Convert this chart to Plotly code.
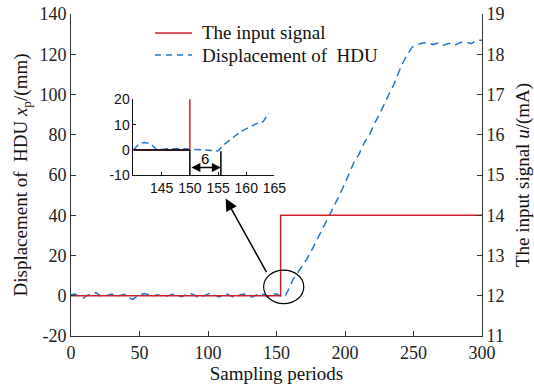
import plotly.graph_objects as go

# ---------------- data ----------------
pre_periods = list(range(0, 154, 3))
pre_disp = [0.5, 0.8, -0.5, -1.2, 0.3, 1.0, 1.6, 0.2, -0.6, 0.4, 0.9, -0.3, 0.2, 0.7, -0.8, -1.8,
            -0.4, 0.6, 1.1, 0.3, -0.2, 0.5, 0.2, -0.4, 0.3, 0.8, 0.1, -0.5, 0.6, 1.2, 0.4, -0.9,
            -0.3, 0.5, 1.4, 0.2, -0.6, 0.1, 0.8, -0.2, -1.0, 0.4, 0.9, 0.2, -0.7, 0.3, 1.3, 0.5,
            -0.4, 0.6, 1.0, -0.2]
rise_periods = [156, 158, 160, 162, 165, 169, 172, 176, 179, 183, 186, 190, 193, 196, 200, 203,
                207, 210, 214, 218, 221, 225, 229, 232, 235, 238, 241, 244, 246, 249, 252, 256,
                260, 264, 268, 272, 276, 280, 284, 288, 292, 296, 300]
rise_disp = [-0.5, 2, 5, 8, 11, 15, 18, 23, 27, 33, 37, 42, 46, 50, 56, 61,
             67, 70, 76, 80, 85, 90, 96, 100, 104, 109, 114, 118, 120.5, 123.5, 124.6, 125.5,
             125.8, 124.8, 125.6, 124.5, 125.4, 124.4, 125.8, 126.2, 125.3, 126.8, 127]
disp_periods = pre_periods + rise_periods
displacement = pre_disp + rise_disp

input_periods = [0, 153, 153, 300]
input_current = [12, 12, 14, 14]

inset_periods = [140, 141, 142, 143, 144, 145, 146, 147, 148, 149, 150, 151, 152, 153, 154, 155,
                 156, 157, 158, 159, 160, 161, 162, 163, 164]
inset_disp = [0, 2.5, 2.9, 2.5, 0.3, 0.2, 0.4, 0.5, 0.6, 0.4, 0.3, 0.1, 0, -0.2, -0.4, -0.4,
              2.0, 3.6, 5.5, 7.2, 8.3, 9.2, 10.6, 11.2, 14.5]
inset_input_periods = [140, 150, 150, 165]
inset_input_current = [12, 12, 14, 14]

x_ticks = [0, 50, 100, 150, 200, 250, 300]
y_ticks = [-20, 0, 20, 40, 60, 80, 100, 120, 140]
y_tick_labels = ["-20", "0", "20", "40", "60", "80", "100", "120", "140"]
u_ticks = [11, 12, 13, 14, 15, 16, 17, 18, 19]
inset_x_ticks = [145, 150, 155, 160, 165]
inset_y_ticks = [-10, 0, 10, 20]
inset_y_labels = ["-10", "0", "10", "20"]

legend_labels = ["The input signal", "Displacement of  HDU"]

RED = "#d0202a"
BLUE = "#1f78c8"
SERIF = "Liberation Serif"
SANS = "Liberation Sans"

fig = go.Figure()
fig.add_trace(go.Scatter(x=input_periods, y=input_current, mode="lines", name=legend_labels[0],
                         line=dict(color=RED, width=1.5), xaxis="x", yaxis="y2", showlegend=False))
fig.add_trace(go.Scatter(x=disp_periods, y=displacement, mode="lines", name=legend_labels[1],
                         line=dict(color=BLUE, width=1.5, dash="8px,5px"), xaxis="x", yaxis="y",
                         showlegend=False))
# inset
fig.add_trace(go.Scatter(x=inset_input_periods, y=[(u - 12) * 20 for u in inset_input_current],
                         mode="lines", line=dict(color=RED, width=1.5), showlegend=False,
                         xaxis="x3", yaxis="y3"))
fig.add_trace(go.Scatter(x=inset_periods, y=inset_disp, mode="lines",
                         line=dict(color=BLUE, width=1.5, dash="7px,4px"), showlegend=False,
                         xaxis="x3", yaxis="y3"))

tickfont = dict(family=SERIF, size=18, color="#222")
fig.update_layout(
    width=534, height=384,
    margin=dict(l=71, r=52, t=14, b=48, autoexpand=False),
    plot_bgcolor="white", paper_bgcolor="white",
    showlegend=False,
    xaxis=dict(range=[0, 300], tickvals=x_ticks, ticks="inside", ticklen=5, tickcolor="#333",
               showline=True, linecolor="#333", linewidth=1, showgrid=False, zeroline=False,
               tickfont=tickfont, anchor="y", automargin=False,
               title=dict(text="Sampling periods", font=dict(family=SERIF, size=19, color="#111"),
                          standoff=4)),
    yaxis=dict(range=[-20, 140], tickvals=y_ticks, ticktext=y_tick_labels, ticks="inside",
               ticklen=5, tickcolor="#333",
               showline=True, linecolor="#333", linewidth=1, showgrid=False, zeroline=False,
               tickfont=tickfont, automargin=False,
               title=dict(text="Displacement of  HDU <i>x</i><sub>p</sub>/(mm)",
                          font=dict(family=SERIF, size=19, color="#111"), standoff=6)),
    yaxis2=dict(range=[11, 19], tickvals=u_ticks, ticks="inside", ticklen=5, tickcolor="#333",
                showline=True, linecolor="#333", linewidth=1, showgrid=False, zeroline=False,
                tickfont=tickfont, overlaying="y", side="right", anchor="x", automargin=False,
                title=dict(text="The input signal <i>u</i>/(mA)",
                           font=dict(family=SERIF, size=19, color="#111"), standoff=20)),
    xaxis3=dict(domain=[0.152, 0.495], range=[140, 165], tickvals=inset_x_ticks, ticks="inside",
                ticklen=3, tickcolor="#111", showline=True, linecolor="#111", linewidth=1,
                showgrid=False, zeroline=False, anchor="y3", automargin=False,
                tickfont=dict(family=SANS, size=14, color="#111")),
    yaxis3=dict(domain=[0.4995, 0.735], range=[-10, 20], tickvals=inset_y_ticks,
                ticktext=inset_y_labels, ticks="inside",
                ticklen=3, tickcolor="#111", showline=True, linecolor="#111", linewidth=1,
                showgrid=False, zeroline=False, anchor="x3", automargin=False,
                tickfont=dict(family=SANS, size=14, color="#111")),
)

# manual legend (paper coordinates)
legend_rows = [(0.941, RED, "solid"), (0.8725, BLUE, "6px,5px")]
for (yp, col, dsh), label in zip(legend_rows, legend_labels):
    fig.add_shape(type="line", xref="paper", yref="paper", x0=0.2044, x1=0.2944, y0=yp, y1=yp,
                  line=dict(color=col, width=1.5, dash=dsh))
    fig.add_annotation(xref="paper", yref="paper", x=0.3139, y=yp, xanchor="left",
                       yanchor="middle", text=label, showarrow=False,
                       font=dict(family=SERIF, size=19, color="#111"))

# circle around the step
fig.add_shape(type="circle", xref="x", yref="y", x0=140.6, x1=169.9, y0=-3.9, y1=12.7,
              line=dict(color="black", width=1.2))
# arrow towards inset
fig.add_annotation(xref="x", yref="y", axref="x", ayref="y", x=112.9, y=48.3, ax=143.3, ay=11.0,
                   text="", showarrow=True, arrowhead=2, arrowsize=1.6, arrowwidth=1.5,
                   arrowcolor="black", standoff=0, startstandoff=0)
# inset annotation lines
fig.add_shape(type="line", xref="x3", yref="y3", x0=140, x1=150, y0=0, y1=0,
              line=dict(color="black", width=1.5))
fig.add_shape(type="line", xref="x3", yref="y3", x0=150, x1=150, y0=0, y1=-10,
              line=dict(color="black", width=1.5))
fig.add_shape(type="line", xref="x3", yref="y3", x0=155.5, x1=155.5, y0=-0.5, y1=-10,
              line=dict(color="black", width=1.5))
fig.add_annotation(xref="x3", yref="y3", axref="x3", ayref="y3", x=155.5, y=-7, ax=150, ay=-7,
                   text="", showarrow=True, arrowhead=2, arrowside="end+start", arrowsize=1.2,
                   arrowwidth=1.5, arrowcolor="black", standoff=0, startstandoff=0)
fig.add_annotation(xref="x3", yref="y3", x=152.7, y=-3.6, text="6", showarrow=False,
                   font=dict(family=SANS, size=15, color="black"))

fig.write_html("out.html")
